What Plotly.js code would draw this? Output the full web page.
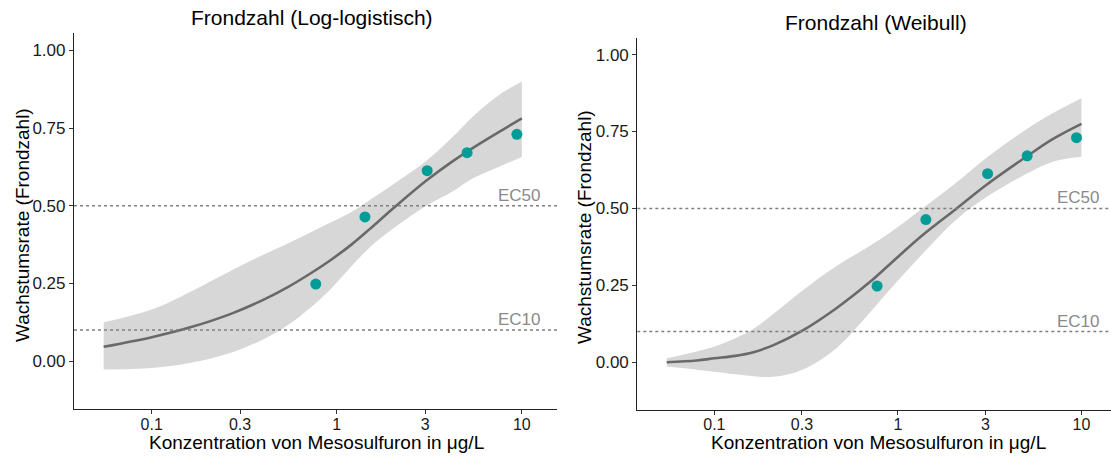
<!DOCTYPE html>
<html>
<head>
<meta charset="utf-8">
<script src="https://cdn.plot.ly/plotly-3.0.1.min.js"></script>
<style>html,body{margin:0;padding:0;background:#fff;}#chart{width:1111px;height:458px;}</style>
</head>
<body>
<div id="chart"></div>
<script>
// Observed data (both panels)
const conc = [0.77, 1.42, 3.08, 5.06, 9.4];
const rate = [0.248, 0.464, 0.613, 0.671, 0.730];

// Log-logistic model fit and confidence band
const llX    = [0.055, 0.1, 0.16, 0.27, 0.4, 0.55, 0.72, 0.92, 1.2, 1.5, 2.05, 3.05, 4.2, 5.5, 7.5, 10];
const llFit  = [0.046, 0.077, 0.108, 0.153, 0.197, 0.24, 0.282, 0.324, 0.375, 0.424, 0.495, 0.581, 0.642, 0.688, 0.737, 0.781];
const llLow  = [-0.027, -0.022, -0.006, 0.028, 0.07, 0.118, 0.172, 0.23, 0.305, 0.365, 0.43, 0.50, 0.545, 0.59, 0.625, 0.657];
const llUp   = [0.125, 0.166, 0.222, 0.292, 0.342, 0.38, 0.414, 0.445, 0.48, 0.518, 0.572, 0.645, 0.72, 0.79, 0.856, 0.90];

// Weibull model fit and confidence band
const wbX    = [0.055, 0.08, 0.1, 0.13, 0.163, 0.21, 0.3, 0.46, 0.7, 0.9, 1.375, 2.09, 3.04, 5.0, 7.0, 10];
const wbFit  = [0.0, 0.006, 0.013, 0.021, 0.033, 0.056, 0.102, 0.175, 0.26, 0.318, 0.415, 0.50, 0.577, 0.668, 0.726, 0.775];
const wbLow  = [-0.014, -0.024, -0.031, -0.039, -0.045, -0.047, -0.025, 0.045, 0.16, 0.235, 0.355, 0.465, 0.537, 0.612, 0.652, 0.668];
const wbUp   = [0.013, 0.035, 0.051, 0.078, 0.108, 0.158, 0.232, 0.312, 0.378, 0.42, 0.502, 0.585, 0.665, 0.757, 0.81, 0.858];

// Reference levels
const ecLevels = [0.5, 0.1];
const ecLabels = ["EC50", "EC10"];

// Ticks
const xTickVals = [0.1, 0.3, 1, 3, 10];
const xTickText = ["0.1", "0.3", "1", "3", "10"];
const yTickVals = [0, 0.25, 0.5, 0.75, 1];
const yTickText = ["0.00", "0.25", "0.50", "0.75", "1.00"];

const panelTitles = ["Frondzahl (Log-logistisch)", "Frondzahl (Weibull)"];
const xTitle = "Konzentration von Mesosulfuron in μg/L";
const yTitle = "Wachstumsrate (Frondzahl)";

const FONT = "Liberation Sans, Arial, sans-serif";
const ribbonColor = "rgb(215,215,215)";
const lineColor = "#696969";
const pointColor = "#009C98";

function panelTraces(xs, fit, lo, up, xa, ya) {
  return [
    {x: xs, y: lo, xaxis: xa, yaxis: ya, type: "scatter", mode: "lines",
     line: {width: 0, shape: "spline", smoothing: 1, color: ribbonColor}, hoverinfo: "skip", showlegend: false},
    {x: xs, y: up, xaxis: xa, yaxis: ya, type: "scatter", mode: "lines", fill: "tonexty",
     fillcolor: ribbonColor, line: {width: 0, shape: "spline", smoothing: 1, color: ribbonColor}, hoverinfo: "skip", showlegend: false},
    {x: xs, y: fit, xaxis: xa, yaxis: ya, type: "scatter", mode: "lines",
     line: {width: 2.6, shape: "spline", smoothing: 1, color: lineColor}, showlegend: false},
    {x: conc, y: rate, xaxis: xa, yaxis: ya, type: "scatter", mode: "markers",
     marker: {size: 11, color: pointColor}, showlegend: false}
  ];
}

const data = [].concat(
  panelTraces(llX, llFit, llLow, llUp, "x", "y"),
  panelTraces(wbX, wbFit, wbLow, wbUp, "x2", "y2")
);

function xAxis(domain, range, anchor) {
  return {
    domain: domain, anchor: anchor, type: "log", range: range,
    tickmode: "array", tickvals: xTickVals, ticktext: xTickText,
    showgrid: false, zeroline: false, showline: true, linecolor: "#222", linewidth: 1.1,
    ticks: "outside", ticklen: 4, tickcolor: "#333", tickwidth: 1,
    ticklabelstandoff: -4,
    tickfont: {family: FONT, size: 16, color: "#1a1a1a"}
  };
}
function yAxis(domain, anchor) {
  return {
    domain: domain, anchor: anchor, range: [-0.155, 1.055],
    tickmode: "array", tickvals: yTickVals, ticktext: yTickText,
    showgrid: false, zeroline: false, showline: true, linecolor: "#222", linewidth: 1.1,
    ticks: "outside", ticklen: 4, tickcolor: "#333", tickwidth: 1,
    tickfont: {family: FONT, size: 17, color: "#1a1a1a"}
  };
}

const W = 1111, H = 458;
const px = v => v / W, py = v => 1 - v / H;

const shapes = [];
const annotations = [];
[["x", "y"], ["x2", "y2"]].forEach(([xa, ya], i) => {
  ecLevels.forEach((lv, j) => {
    shapes.push({type: "line", xref: xa + " domain", yref: ya, x0: 0, x1: 1, y0: lv, y1: lv,
      line: {color: "#808080", width: 1.6, dash: "dot"}});
    annotations.push({xref: xa + " domain", yref: ya, x: i === 0 ? 0.972 : 0.982, y: lv,
      xanchor: "right", yanchor: "bottom", yshift: -1, showarrow: false, text: ecLabels[j],
      font: {family: FONT, size: 17, color: "#8a8a8a"}});
  });
});

annotations.push(
  {xref: "paper", yref: "paper", x: px(311.5), y: py(18), xanchor: "center", yanchor: "middle",
   showarrow: false, text: panelTitles[0], font: {family: FONT, size: 21, color: "#000"}},
  {xref: "paper", yref: "paper", x: px(875.5), y: py(22), xanchor: "center", yanchor: "middle",
   showarrow: false, text: panelTitles[1], font: {family: FONT, size: 21, color: "#000"}},
  {xref: "paper", yref: "paper", x: px(316), y: py(442), xanchor: "center", yanchor: "middle",
   showarrow: false, text: xTitle, font: {family: FONT, size: 19, color: "#000"}},
  {xref: "paper", yref: "paper", x: px(878), y: py(442), xanchor: "center", yanchor: "middle",
   showarrow: false, text: xTitle, font: {family: FONT, size: 19, color: "#000"}},
  {xref: "paper", yref: "paper", x: px(22), y: py(225), xanchor: "center", yanchor: "middle", textangle: -90,
   showarrow: false, text: yTitle, font: {family: FONT, size: 19, color: "#000"}},
  {xref: "paper", yref: "paper", x: px(584), y: py(227), xanchor: "center", yanchor: "middle", textangle: -90,
   showarrow: false, text: yTitle, font: {family: FONT, size: 19, color: "#000"}}
);

const layout = {
  width: W, height: H,
  margin: {l: 0, r: 0, t: 0, b: 0},
  paper_bgcolor: "#fff", plot_bgcolor: "#fff",
  showlegend: false,
  font: {family: FONT},
  xaxis: xAxis([px(74), px(557)], [-1.42, 1.19], "y"),
  yaxis: yAxis([py(409.3), py(33.3)], "x"),
  xaxis2: xAxis([px(637.3), 1], [-1.42, 1.161], "y2"),
  yaxis2: yAxis([py(410), py(37.7)], "x2"),
  shapes: shapes,
  annotations: annotations
};

Plotly.newPlot("chart", data, layout, {displayModeBar: false, staticPlot: true});
</script>
</body>
</html>
